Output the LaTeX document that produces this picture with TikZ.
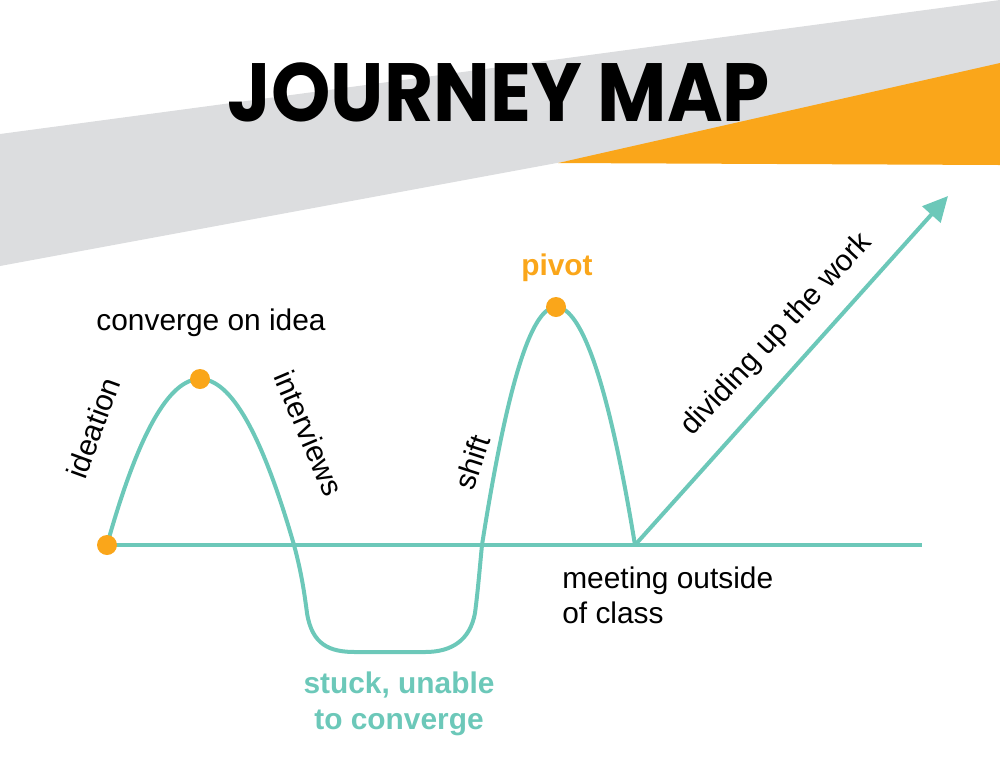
\documentclass[tikz,border=0pt]{standalone}
\usepackage{fontspec}
\setmainfont{Liberation Sans}
\newfontfamily\titlefont{Poppins}
\usetikzlibrary{arrows.meta}

\definecolor{mapteal}{HTML}{6CC8B9}
\definecolor{maporange}{HTML}{FAA61A}
\definecolor{mapgray}{HTML}{DCDDDF}

\begin{document}
\begin{tikzpicture}[
    x=0.02cm, y=-0.02cm,
    track/.style={draw=mapteal, line width=0.08cm},
    milestone/.style={circle, fill=maporange, minimum size=0.4cm, inner sep=0pt},
    note/.style={font=\fontsize{17}{20}\selectfont, inner sep=0pt},
    shout/.style={font=\bfseries\fontsize{17}{21}\selectfont, inner sep=0pt}
  ]
  \useasboundingbox (0,0) rectangle (1000,772);

  % --- Banner ---
  \fill[mapgray] (0,134) -- (1000,0) -- (1000,81) -- (0,266) -- cycle;
  \fill[maporange] (558,163) -- (1000,63) -- (1000,165) -- cycle;
  \node[font=\titlefont\bfseries\fontsize{47}{50}\selectfont, anchor=base,
    inner sep=0pt] (title) at (499,121) {\scalebox{0.915}[1]{JOURNEY MAP}};

  % --- Track ---
  \coordinate (ideate) at (107,545);
  \coordinate (idea) at (200,379);
  \coordinate (pivot) at (556,307);
  \coordinate (meet) at (635,545);
  \coordinate (lineend) at (922,545);
  \coordinate (head) at (948,196);

  % baseline
  \draw[track] (ideate) -- (lineend);
  % hump, trough, hump
  \draw[track] (ideate) .. controls (138,434) and (169,379) .. (idea)
    .. controls (231,379) and (262,434) .. (294,545)
    .. controls (301,571) and (304,590) .. (307,613)
    .. controls (312,645) and (330,652) .. (355,652)
    -- (425,652)
    .. controls (452,652) and (470,640) .. (475,613)
    .. controls (478,590) and (480,565) .. (482,545)
    .. controls (507,386) and (531,307) .. (pivot)
    .. controls (582,307) and (609,386) .. (meet);
  % way out
  \draw[track, -{Triangle[length=0.5cm, width=0.48cm]}] (meet) -- (head);

  \node[milestone] (ideatedot) at (ideate) {};
  \node[milestone] (ideadot) at (idea) {};
  \node[milestone] (pivotdot) at (pivot) {};

  % --- Labels ---
  \node[note, anchor=base] (converge) at (211,330) {converge on idea};
  \node[note, rotate=70] (ideation) at (93,428) {ideation};
  \node[note, rotate=-67] (interviews) at (309,433) {interviews};
  \node[note, rotate=72] (shift) at (472,462) {shift};
  \node[note, rotate=47] (divide) at (777,335) {dividing up the work};
  \node[note, anchor=north west, align=left] (outside) at (562,566)
    {meeting outside\\of class};
  \node[shout, text=maporange, anchor=base] (pivotlabel) at (557,275) {pivot};
  \node[shout, text=mapteal, anchor=north, align=center] (stuck) at (399,671)
    {stuck, unable\\to converge};
\end{tikzpicture}
\end{document}
